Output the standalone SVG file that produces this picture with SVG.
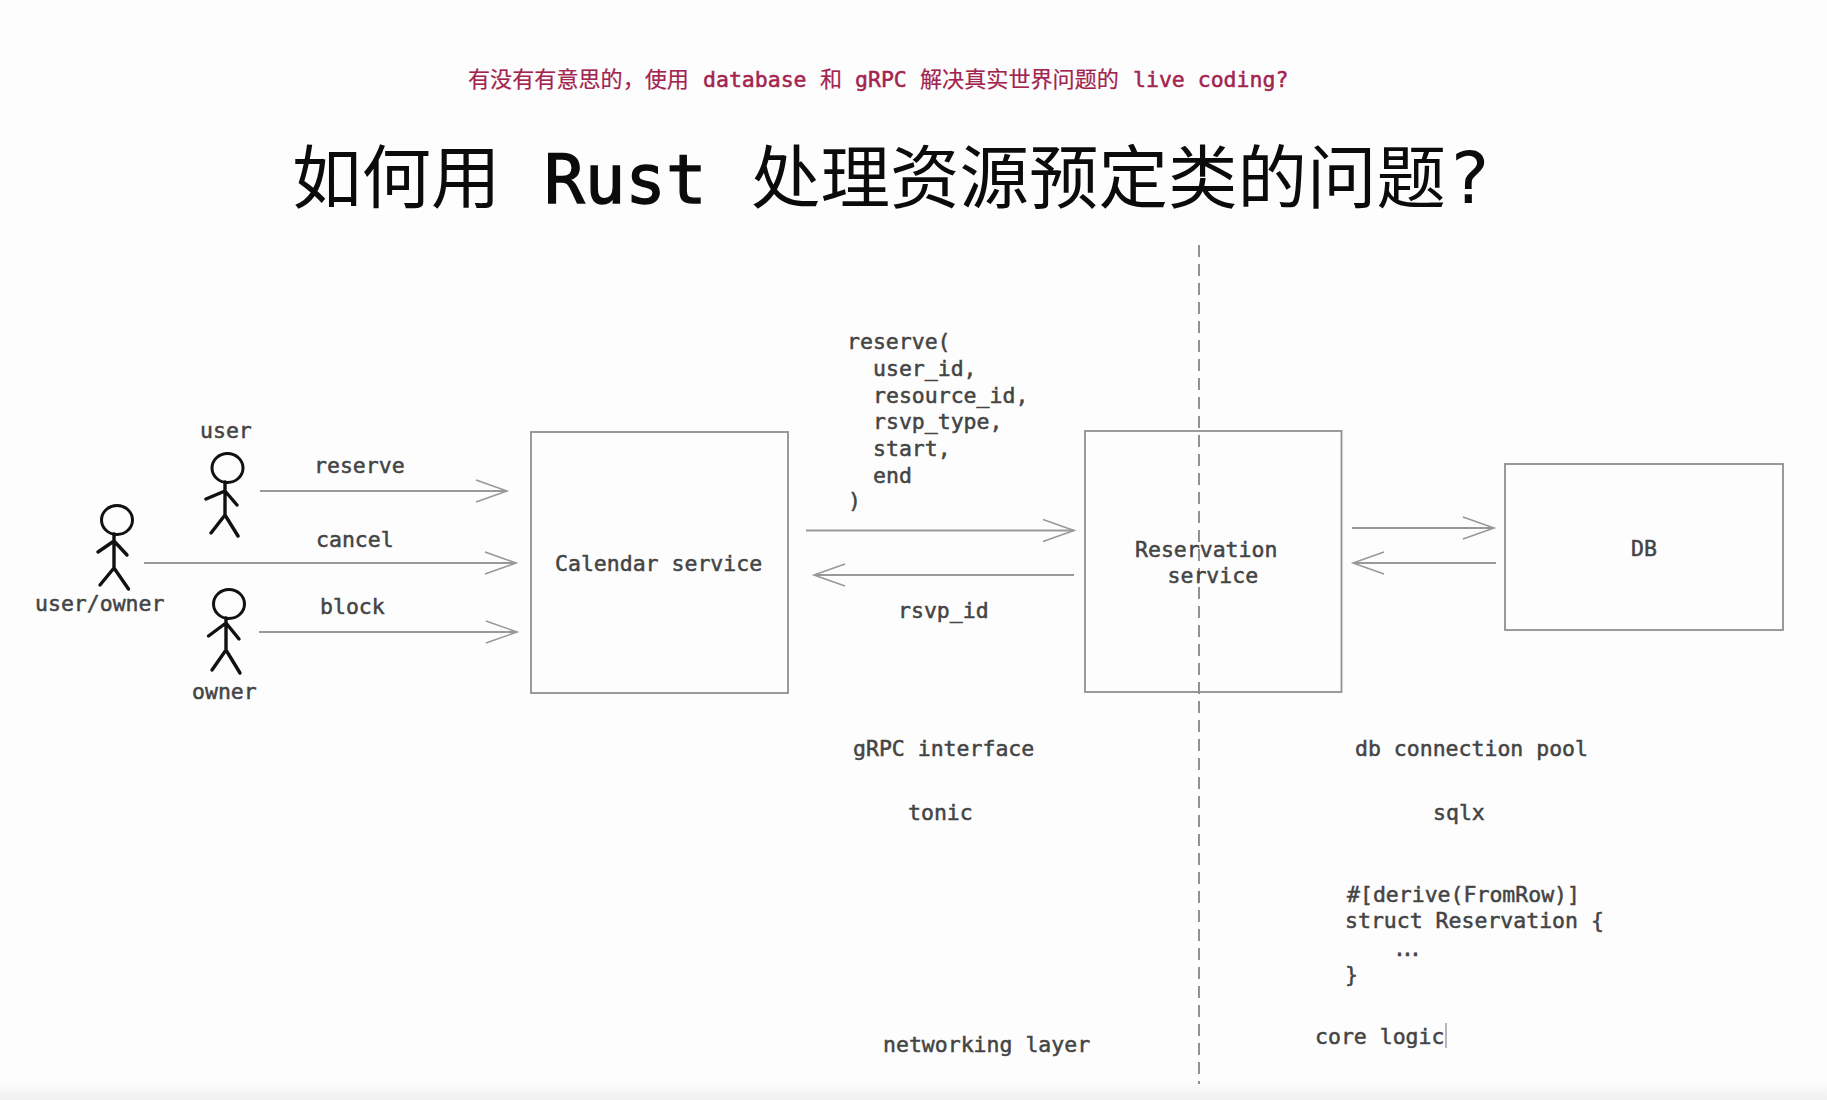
<svg xmlns="http://www.w3.org/2000/svg" width="1827" height="1100" viewBox="0 0 1827 1100">
<defs>
<linearGradient id="bottomFade" x1="0" y1="0" x2="0" y2="1"><stop offset="0" stop-color="#fdfdfd"/><stop offset="1" stop-color="#efefef"/></linearGradient>
<marker id="chev" markerUnits="userSpaceOnUse" markerWidth="40" markerHeight="30" refX="34" refY="15" orient="auto" overflow="visible"><path d="M3,4 L34,15 L3,26" fill="none" stroke="#999" stroke-width="1.6"/></marker>
</defs>
<style>
text{font-family:"DejaVu Sans Mono","Noto Sans CJK SC",monospace;font-size:21.5px;fill:#444;stroke:#444;stroke-width:.5px}
.box{fill:none;stroke:#909090;stroke-width:1.8}
.conn{fill:none;stroke:#999;stroke-width:1.8;marker-end:url(#chev)}
.dash{fill:none;stroke:#777;stroke-width:1.6;stroke-dasharray:12 7}
.fig{fill:none;stroke:#111;stroke-width:3.4;stroke-linecap:round;stroke-linejoin:round}
.head{fill:none;stroke:#111;stroke-width:3}
.sub{fill:#a2244f;stroke:#a2244f;stroke-width:.5px}
.subcjk{font-family:"Noto Sans CJK SC",sans-serif;font-size:22.1px;stroke-width:.2px}
.title{fill:#0b0b0b;stroke:none;font-family:"Noto Sans CJK SC",sans-serif;font-size:69.5px}
.titlem{font-family:"DejaVu Sans Mono",monospace;font-size:67.5px;stroke:#0b0b0b;stroke-width:1.4px}
.titleq{font-family:"DejaVu Sans",sans-serif;font-size:72px}
</style>
<rect width="1827" height="1100" fill="#fdfdfd"/>
<rect y="1082" width="1827" height="18" fill="url(#bottomFade)"/>
<g id="subtitle">
<text y="87" class="sub"><tspan x="468" class="subcjk">有没有有意思的，使用</tspan><tspan x="703">database</tspan><tspan x="820" class="subcjk">和</tspan><tspan x="855">gRPC</tspan><tspan x="920" class="subcjk">解决真实世界问题的</tspan><tspan x="1133">live coding?</tspan></text>
</g>
<g id="title">
<text y="203" class="title"><tspan x="292">如何用</tspan><tspan x="544" class="titlem">Rust</tspan><tspan x="751">处理资源预定类的问题</tspan><tspan x="1451" class="titleq">?</tspan></text>
</g>
<g id="connectors">
<line class="dash" x1="1199" y1="245" x2="1199" y2="1084"/>
<line class="conn" x1="260" y1="491" x2="507" y2="491"/>
<line class="conn" x1="144" y1="563" x2="516" y2="563"/>
<line class="conn" x1="259" y1="632" x2="517" y2="632"/>
<line class="conn" x1="806" y1="530.500" x2="1074" y2="530.500"/>
<line class="conn" x1="1074" y1="575" x2="814" y2="575"/>
<line class="conn" x1="1352" y1="528" x2="1494" y2="528"/>
<line class="conn" x1="1496" y1="563" x2="1353" y2="563"/>
</g>
<g id="calendar-service"><rect class="box" x="531" y="432" width="257" height="261"/><text x="555" y="571">Calendar service</text></g>
<g id="reservation-service"><rect class="box" x="1085" y="431" width="256.500" height="261"/><text x="1135" y="557">Reservation</text><text x="1167.500" y="583">service</text></g>
<g id="db"><rect class="box" x="1505" y="464" width="278" height="166"/><text x="1631" y="556">DB</text></g>
<g id="actor-user"><ellipse class="head" cx="227.500" cy="468" rx="15.500" ry="14.500"/><path class="fig" d="M225,482V515M225,515L211,533M225,515L238,536M225,491L206,499M225,491L237,505"/><text x="200" y="438">user</text></g>
<g id="actor-user-owner"><ellipse class="head" cx="117" cy="520" rx="15.500" ry="14.500"/><path class="fig" d="M114,534V568M114,568L100,585M114,568L128.500,589M114,541L98,552M114,541L127,555"/><text x="35" y="611">user/owner</text></g>
<g id="actor-owner"><ellipse class="head" cx="229" cy="604" rx="15.500" ry="14.500"/><path class="fig" d="M226,618V650M226,650L212,670M226,650L240,673M226,623L208.500,636M226,623L239,639"/><text x="192" y="699">owner</text></g>
<g id="labels">
<text x="314" y="473">reserve</text>
<text x="316" y="547">cancel</text>
<text x="320" y="614">block</text>
<text x="847" y="349">reserve(</text>
<text x="873" y="376">user_id,</text>
<text x="873" y="403">resource_id,</text>
<text x="873" y="429">rsvp_type,</text>
<text x="873" y="456">start,</text>
<text x="873" y="483">end</text>
<text x="848" y="508">)</text>
<text x="898" y="618">rsvp_id</text>
<text x="853" y="756">gRPC interface</text>
<text x="908" y="820">tonic</text>
<text x="883" y="1052">networking layer</text>
<text x="1355" y="756">db connection pool</text>
<text x="1433" y="820">sqlx</text>
<text x="1347" y="902">#[derive(FromRow)]</text>
<text x="1345" y="928">struct Reservation {</text>
<text x="1393" y="956" letter-spacing="-5">...</text>
<text x="1345" y="982">}</text>
<text x="1315" y="1044">core logic</text>
<line x1="1446" y1="1023" x2="1446" y2="1048" stroke="#888" stroke-width="1.2"/>
</g>
</svg>
